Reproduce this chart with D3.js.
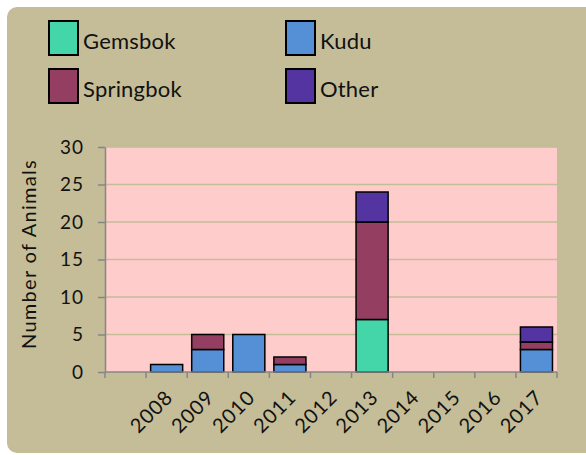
<!DOCTYPE html>
<html>
<head>
<meta charset="utf-8">
<script src="https://cdn.jsdelivr.net/npm/d3@7"></script>
<style>
  body { margin: 0; background: #fff; }
  text { font-family: Lato, "Open Sans", sans-serif; fill: #111; }
</style>
</head>
<body>
<div id="container"></div>
<script>
// data
const years = ["", "2008", "2009", "2010", "2011", "2012", "2013", "2014", "2015", "2016", "2017"];
const gemsbok   = [0, 0, 0, 0, 0, 0, 7, 0, 0, 0, 0];
const kudu      = [0, 1, 3, 5, 1, 0, 0, 0, 0, 0, 3];
const springbok = [0, 0, 2, 0, 1, 0, 13, 0, 0, 0, 1];
const other     = [0, 0, 0, 0, 0, 0, 4, 0, 0, 0, 2];
const seriesNames = ["Gemsbok", "Kudu", "Springbok", "Other"];
const seriesColors = ["#44d6a8", "#558fd6", "#943f62", "#5434a0"];
const yTicks = [0, 5, 10, 15, 20, 25, 30];

const width = 586, height = 455;
const marginLeft = 105, marginRight = 29, marginTop = 147, marginBottom = 83;

const rows = years.map((y, i) => ({
  year: y, Gemsbok: gemsbok[i], Kudu: kudu[i], Springbok: springbok[i], Other: other[i]
}));
const stacked = d3.stack().keys(seriesNames)(rows);

const x = d3.scaleBand()
  .domain(years)
  .range([marginLeft, width - marginRight])
  .paddingInner(0.22)
  .paddingOuter(0.11);

const y = d3.scaleLinear()
  .domain([0, 30])
  .range([height - marginBottom, marginTop]);

const color = d3.scaleOrdinal().domain(seriesNames).range(seriesColors);

const svg = d3.select("#container").append("svg")
  .attr("width", width)
  .attr("height", height)
  .attr("viewBox", [0, 0, width, height]);

// tan panel
svg.append("rect")
  .attr("x", 7).attr("y", 7)
  .attr("width", 620).attr("height", 446)
  .attr("rx", 10)
  .attr("fill", "#c4bd97");

// plot area
svg.append("rect")
  .attr("x", marginLeft).attr("y", marginTop)
  .attr("width", width - marginRight - marginLeft)
  .attr("height", y(0) - marginTop)
  .attr("fill", "#ffcccc");

// gridlines
svg.append("g")
  .selectAll("line")
  .data(yTicks.filter(d => d > 0))
  .join("line")
  .attr("x1", marginLeft).attr("x2", width - marginRight)
  .attr("y1", d => y(d)).attr("y2", d => y(d))
  .attr("stroke", "#c4bd97")
  .attr("stroke-width", 1.5);

// bars
svg.append("g")
  .selectAll("g")
  .data(stacked)
  .join("g")
  .attr("fill", d => color(d.key))
  .selectAll("rect")
  .data(d => d.filter(s => s[1] - s[0] > 0))
  .join("rect")
  .attr("x", d => x(d.data.year))
  .attr("y", d => y(d[1]))
  .attr("height", d => y(d[0]) - y(d[1]))
  .attr("width", x.bandwidth())
  .attr("stroke", "#000")
  .attr("stroke-width", 1.5);

// y axis
svg.append("g")
  .attr("transform", `translate(${marginLeft},0)`)
  .call(d3.axisLeft(y).tickValues(yTicks).tickSize(7).tickPadding(14).tickSizeOuter(0))
  .call(g => g.selectAll("line, path").attr("stroke", "#868686").attr("stroke-width", 1.5))
  .call(g => g.selectAll("text")
    .style("font-size", "19px")
    .style("letter-spacing", "1px")
    .style("font-family", "Lato, sans-serif")
    .attr("fill", "#111"));

// x axis: ticks at band boundaries
const step = x.step();
const boundaries = years.map(d => x(d) - (step - x.bandwidth()) / 2).concat([width - marginRight]);
const xAxis = svg.append("g");
xAxis.append("line")
  .attr("x1", marginLeft).attr("x2", width - marginRight)
  .attr("y1", y(0)).attr("y2", y(0))
  .attr("stroke", "#868686").attr("stroke-width", 1.5);
xAxis.selectAll("line.tick")
  .data(boundaries)
  .join("line")
  .attr("class", "tick")
  .attr("x1", d => d).attr("x2", d => d)
  .attr("y1", y(0)).attr("y2", y(0) + 6)
  .attr("stroke", "#868686").attr("stroke-width", 1.5);
xAxis.selectAll("text")
  .data(years.filter(d => d !== ""))
  .join("text")
  .attr("transform", d => `translate(${x(d) + x.bandwidth() / 2 - 3},${y(0) + 16}) rotate(-45)`)
  .attr("text-anchor", "end")
  .attr("dy", "0.75em")
  .style("font-size", "20px")
  .style("letter-spacing", "1px")
  .text(d => d);

// y axis title
svg.append("text")
  .attr("transform", `translate(36,254) rotate(-90)`)
  .attr("text-anchor", "middle")
  .style("font-size", "20px")
  .style("letter-spacing", "1.3px")
  .text("Number of Animals");

// legend
const legendPos = [[49, 21], [286, 21], [49, 69], [286, 69]];
const legend = svg.append("g")
  .selectAll("g")
  .data(seriesNames)
  .join("g")
  .attr("transform", (d, i) => `translate(${legendPos[i][0]},${legendPos[i][1]})`);
legend.append("rect")
  .attr("width", 29).attr("height", 34)
  .attr("fill", d => color(d))
  .attr("stroke", "#000").attr("stroke-width", 2);
legend.append("text")
  .attr("x", 34).attr("y", 28)
  .style("font-size", "22px")
  .style("letter-spacing", "0.2px")
  .text(d => d);
</script>
</body>
</html>
